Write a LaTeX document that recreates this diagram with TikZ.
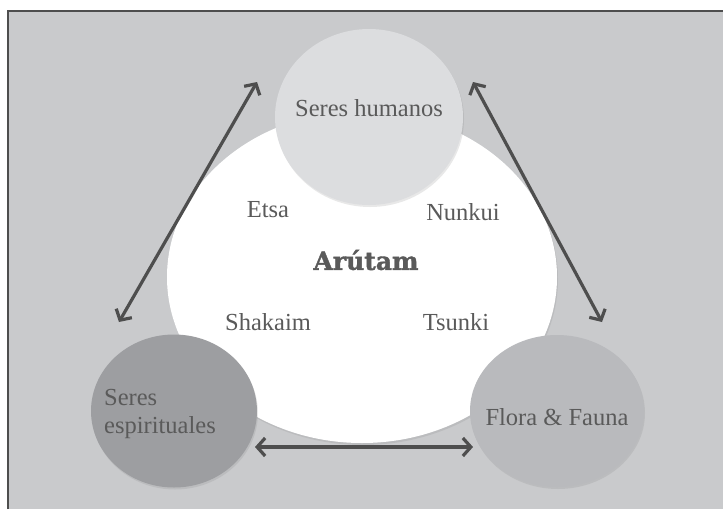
\documentclass[tikz,border=0pt]{standalone}
\usepackage{fontspec}
\setmainfont{Liberation Serif}
\newfontfamily\slabfont[BoldFeatures={FakeBold=1.5}]{DejaVu Serif}
\usetikzlibrary{arrows.meta,shapes.geometric,shadows}

\definecolor{bggray}{HTML}{C9CACC}
\definecolor{humgray}{HTML}{DCDDDF}
\definecolor{espgray}{HTML}{9D9EA1}
\definecolor{florgray}{HTML}{B9BABD}
\definecolor{inkgray}{HTML}{5A5A5A}
\definecolor{arrowgray}{HTML}{4E4E4E}

\tikzset{
  realm/.style={ellipse, inner sep=0pt, draw=none,
    drop shadow={opacity=0.18, shadow xshift=1pt, shadow yshift=-2pt}},
  spirit/.style={text=inkgray, inner sep=0pt, font=\fontsize{24.5}{28}\selectfont},
  link/.style={draw=arrowgray, line width=3.2pt,
    {Straight Barb[length=8pt,width=18pt]}-{Straight Barb[length=8pt,width=18pt]}}
}

\begin{document}
\begin{tikzpicture}[x=1pt,y=-1pt]
\useasboundingbox (0,0) rectangle (723,509);
\fill[bggray] (8,11) rectangle (723,509);
\draw[arrowgray, line width=1.3pt] (8,509) -- (8,11) -- (723,11);

% circles
\node[realm, fill=white, minimum width=390pt, minimum height=332pt] (arutam) at (362,277) {};
\node[realm, fill=humgray, minimum width=188pt, minimum height=176pt] (humanos) at (369,117) {};
\node[realm, fill=espgray, minimum width=166pt, minimum height=153pt] (espir) at (174,411) {};
\node[realm, fill=florgray, minimum width=174pt, minimum height=152pt] (flora) at (557,411) {};

% texts
\node[spirit] (humanos-txt) at (369,108) {Seres humanos};
\node[spirit, anchor=west, align=left] (espir-txt) at (104,414) {Seres\\espirituales};
\node[spirit] (flora-txt) at (557,417) {Flora \& Fauna};
\node[spirit] (etsa) at (268,210) {Etsa};
\node[spirit] (nunkui) at (463,212) {Nunkui};
\node[spirit] (shakaim) at (268,322) {Shakaim};
\node[spirit] (tsunki) at (456,322) {Tsunki};
\node[text=inkgray, inner sep=0pt, font=\slabfont\bfseries\fontsize{25}{28}\selectfont] (arutam-txt) at (366,260) {Arútam};

% arrows
\coordinate (espir-up) at (119,322);
\coordinate (humanos-left) at (257,82);
\coordinate (humanos-right) at (473,82);
\coordinate (flora-up) at (602,322);
\coordinate (espir-right) at (255,447);
\coordinate (flora-left) at (473,447);
\draw[link] (espir-up) -- (humanos-left);
\draw[link] (humanos-right) -- (flora-up);
\draw[link] (espir-right) -- (flora-left);
\end{tikzpicture}
\end{document}
